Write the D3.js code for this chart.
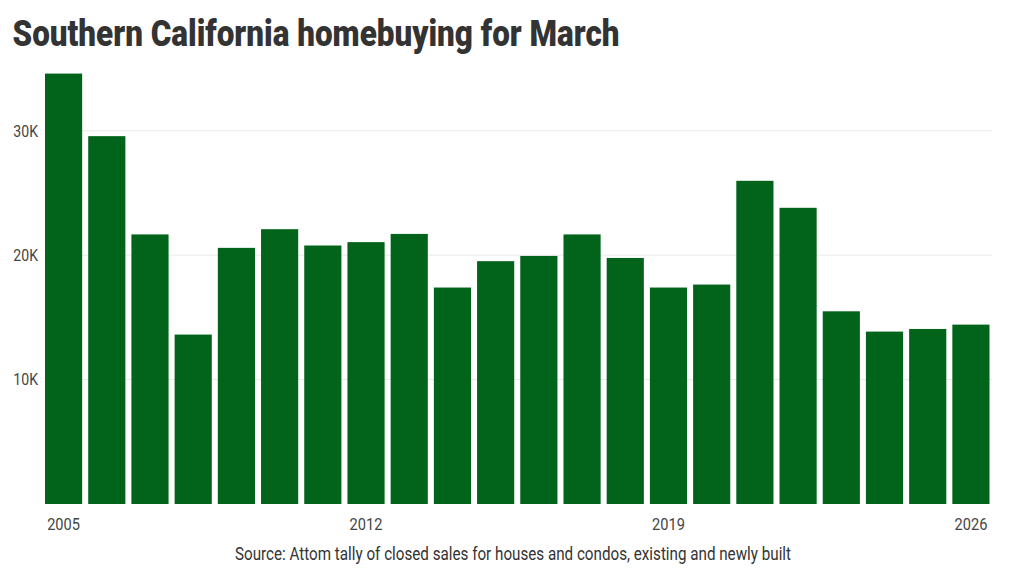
<!DOCTYPE html>
<html>
<head>
<meta charset="utf-8">
<script src="https://cdn.jsdelivr.net/npm/d3@7"></script>
<style>
  html, body { margin: 0; padding: 0; background: #fff; }
  svg { display: block; font-family: Roboto, "Noto Sans", sans-serif; }
</style>
</head>
<body>
<svg id="chart" width="1024" height="576"></svg>
<script>
// March closed sales, Southern California
const years = [2005, 2006, 2007, 2008, 2009, 2010, 2011, 2012, 2013, 2014, 2015,
               2016, 2017, 2018, 2019, 2020, 2021, 2022, 2023, 2024, 2025, 2026];
const sales = [34600, 29570, 21670, 13620, 20590, 22090, 20780, 21050, 21710, 17400, 19520,
               19940, 21670, 19780, 17400, 17640, 25980, 23810, 15490, 13860, 14070, 14420];
const yTicks = [10000, 20000, 30000];
const xTickYears = [2005, 2012, 2019, 2026];

const title = "Southern California homebuying for March";
const source = "Source: Attom tally of closed sales for houses and condos, existing and newly built";

const svg = d3.select("#chart");

const x = d3.scaleBand()
  .domain(years)
  .range([45, 989.5])
  .paddingInner(0.14)
  .paddingOuter(0);

const y = d3.scaleLinear()
  .domain([0, 30000])
  .range([504, 130.8]);

// squeeze plain Roboto so it sits like the condensed face in the original
function condense(sel, k) {
  sel.each(function () {
    const t = d3.select(this);
    const px = +t.attr("x"), py = +t.attr("y");
    t.attr("x", 0).attr("y", 0)
      .attr("transform", `translate(${px},${py}) scale(${k},1)`);
  });
}

// gridlines
svg.append("g")
  .selectAll("line")
  .data(yTicks)
  .join("line")
  .attr("x1", 45)
  .attr("x2", 992)
  .attr("y1", d => y(d))
  .attr("y2", d => y(d))
  .attr("stroke", "#e9e9e9")
  .attr("stroke-width", 1);

// bars
svg.append("g")
  .selectAll("rect")
  .data(years)
  .join("rect")
  .attr("x", d => x(d))
  .attr("width", x.bandwidth())
  .attr("y", (d, i) => y(sales[i]))
  .attr("height", (d, i) => y(0) - y(sales[i]))
  .attr("fill", "#02641a");

// y labels
svg.append("g")
  .selectAll("text")
  .data(yTicks)
  .join("text")
  .attr("x", 38)
  .attr("y", d => y(d) + 5.8)
  .attr("text-anchor", "end")
  .attr("font-size", 16)
  .attr("fill", "#444")
  .text(d => d3.format(".0s")(d).replace("k", "K"))
  .call(condense, 0.88);

// x labels
svg.append("g")
  .selectAll("text")
  .data(xTickYears)
  .join("text")
  .attr("x", d => x(d) + x.bandwidth() / 2)
  .attr("y", 530)
  .attr("text-anchor", "middle")
  .attr("font-size", 17)
  .attr("fill", "#444")
  .text(d => d)
  .call(condense, 0.86);

// title
svg.append("text")
  .attr("x", 12.5)
  .attr("y", 46)
  .attr("font-size", 36.5)
  .attr("font-weight", 900)
  .attr("fill", "#333")
  .attr("textLength", 607)
  .attr("lengthAdjust", "spacingAndGlyphs")
  .text(title);

// source note
svg.append("text")
  .attr("x", 235)
  .attr("y", 560)
  .attr("font-size", 17.5)
  .attr("fill", "#333")
  .attr("textLength", 556)
  .attr("lengthAdjust", "spacingAndGlyphs")
  .text(source);
</script>
</body>
</html>
